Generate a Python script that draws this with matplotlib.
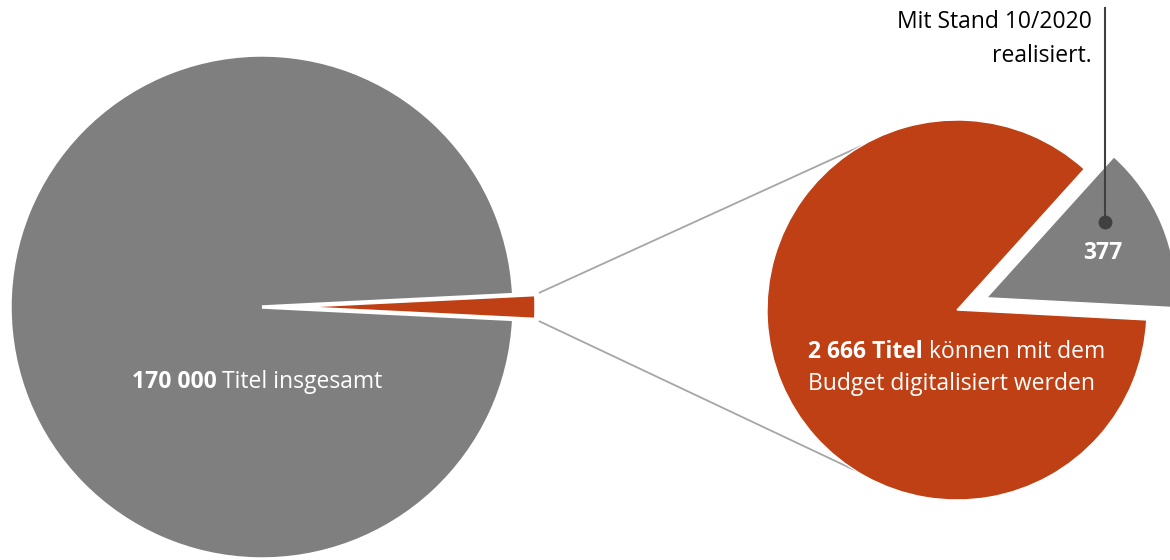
import numpy as np
import matplotlib
matplotlib.use("Agg")
import matplotlib.pyplot as plt

# data
total_titles = 170000
budget_titles = 2666
realized_titles = 377

left_values = [budget_titles, total_titles - budget_titles]
right_values = [realized_titles, budget_titles - realized_titles]

GRAY = "#7f7f7f"
ORANGE = "#bf4015"
LINE_GRAY = "#a6a6a6"
DOT = "#404040"

plt.rcParams["font.family"] = ["Open Sans", "DejaVu Sans"]
FS = 16.5

fig = plt.figure(figsize=(11.7, 5.6), dpi=100)
ax = fig.add_axes([0, 0, 1, 1])

# left pie (all titles)
c1 = (262, 253)
r1 = 252
half1 = left_values[0] / sum(left_values) * 180
exp1 = 22  # explode is in data units
ax.pie(left_values, colors=[ORANGE, GRAY], startangle=-half1, counterclock=True,
       explode=[exp1, 0], center=c1, radius=r1, frame=True,
       wedgeprops=dict(edgecolor="white", linewidth=2.5))

# right pie (budget)
c2 = (957, 250)
r2 = 190
start2 = -3
exp2 = 32
ax.pie(right_values, colors=[GRAY, ORANGE], startangle=start2, counterclock=True,
       explode=[exp2, 0], center=c2, radius=r2, frame=True,
       wedgeprops=dict(edgecolor="white", linewidth=1))

ax.set_xlim(0, 1170)
ax.set_ylim(0, 560)
ax.set_aspect("equal")
ax.axis("off")

# connector lines
for sgn, ang2 in [(1, 120.5), (-1, -122.5)]:
    t = np.radians(sgn * half1)
    x0 = c1[0] + exp1 + r1 * np.cos(t) + 4
    y0 = c1[1] + r1 * np.sin(t) + sgn * 2
    t2 = np.radians(ang2)
    x1 = c2[0] + r2 * np.cos(t2)
    y1 = c2[1] + r2 * np.sin(t2)
    ax.plot([x0, x1], [y0, y1], color=LINE_GRAY, lw=1.3, zorder=0)

fig.canvas.draw()
renderer = fig.canvas.get_renderer()


def mixed_label(x, y, bold, regular, align="left"):
    # bold part followed by regular part on one line
    tb = ax.text(x, y, bold, ha="left", va="center", color="white",
                 fontsize=FS, fontweight="bold")
    tr = ax.text(x, y, " " + regular, ha="left", va="center", color="white",
                 fontsize=FS)
    wb = tb.get_window_extent(renderer).width
    wr = tr.get_window_extent(renderer).width
    if align == "center":
        x = x - (wb + wr) / 2
    tb.set_x(x)
    tr.set_x(x + wb)


mixed_label(257, 178, "170 000", "Titel insgesamt", align="center")
mixed_label(808, 208, "2 666 Titel", "können mit dem")
ax.text(808, 176, "Budget digitalisiert werden", ha="left", va="center",
        color="white", fontsize=FS)

# realised slice
ax.text(1103, 307, str(realized_titles), ha="center", va="center", color="white",
        fontsize=FS, fontweight="bold")
ax.plot([1105, 1105], [338, 552], color=DOT, lw=1.5, zorder=5)
ax.plot(1105, 338, "o", color=DOT, markersize=9, zorder=6)
ax.text(1092, 521, "Mit Stand 10/2020\nrealisiert.", ha="right", va="center",
        color="black", fontsize=FS, linespacing=1.55)

fig.savefig("out.png", dpi=100)
